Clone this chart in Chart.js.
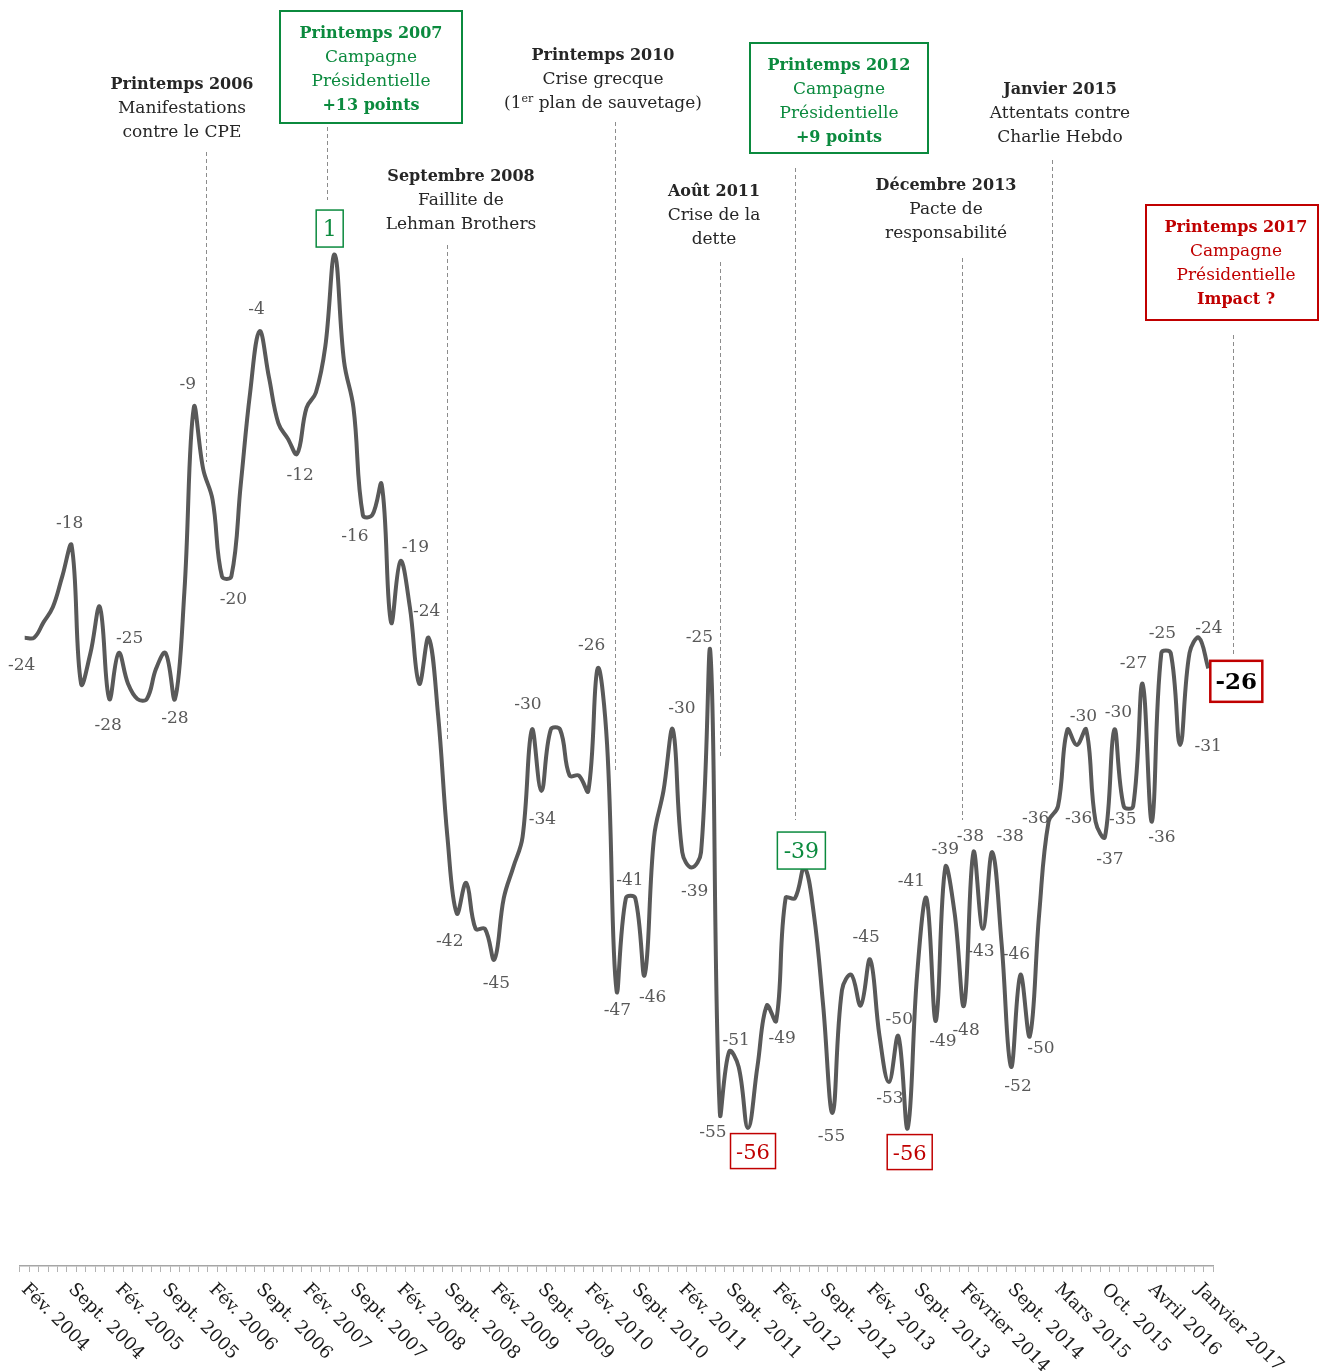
<!DOCTYPE html>
<html>
<head>
<meta charset="utf-8">
<script src="https://cdn.jsdelivr.net/npm/chart.js@4.4.1/dist/chart.umd.min.js"></script>
<style>
  body { margin: 0; background: #fff; }
  canvas { display: block; }
</style>
</head>
<body>
<canvas id="chart" width="1319" height="1371"></canvas>
<script>
// axis labels, one every 5 points
const tickLabels = [
    "Fév. 2004", "Sept. 2004", "Fév. 2005", "Sept. 2005", "Fév. 2006", "Sept. 2006",
    "Fév. 2007", "Sept. 2007", "Fév. 2008", "Sept. 2008", "Fév. 2009", "Sept. 2009",
    "Fév. 2010", "Sept. 2010", "Fév. 2011", "Sept. 2011", "Fév. 2012", "Sept. 2012",
    "Fév. 2013", "Sept. 2013", "Février 2014", "Sept. 2014", "Mars 2015", "Oct. 2015",
    "Avril 2016", "Janvier 2017"
];
const tickEvery = 5;

// balance of opinion, one value per survey
const values = [
    -24, -24, -23, -22, -20, -18, -27, -25, -22, -28,
    -25, -27, -28, -28, -26, -25, -28, -21, -9, -13,
    -15, -20, -20, -14, -8, -4, -7, -10, -11, -12,
    -9, -8, -5, 1, -6, -9, -16, -16, -14, -23,
    -19, -22, -27, -24, -29, -37, -42, -40, -43, -43,
    -45, -41, -39, -37, -30, -34, -30, -30, -33, -33,
    -34, -26, -31, -47, -41, -41, -46, -37, -34, -30,
    -38, -39, -38, -25, -55, -51, -52, -56, -52, -48,
    -49, -41, -41, -39, -42, -48, -55, -47, -46, -48,
    -45, -50, -53, -50, -56, -46, -41, -49, -39, -42,
    -48, -38, -43, -38, -44, -52, -46, -50, -42, -36,
    -35, -30, -31, -30, -36, -37, -30, -35, -35, -27,
    -36, -25, -25, -31, -25, -24, -26
];

const categories = values.map((v, i) => i % tickEvery === 0 ? tickLabels[i / tickEvery] : "");

const ink = "#262626";
const grey = "#595959";
const green = "#0b8a3e";
const red = "#c00000";
const serif = "'DejaVu Serif', 'Liberation Serif', serif";

// plain value labels: [point index, dx, dy]
const valueLabels = [
    [0, -3, 28], [5, -2, -22], [9, -1, 27], [10, 11, -14], [16, 0, 20], [18, -6, -23],
    [22, 2, 23], [25, -3, -22], [29, 3, 22], [36, -8, 22], [40, 15, -13], [43, -2, -26],
    [46, -7, 28], [50, 2, 24], [54, -4, -25], [55, 1, 29], [61, -6, -23], [63, 1, 20],
    [64, 4, -18], [66, 8, 23], [69, 9, -21], [71, 3, 24], [73, -11, -15], [74, -7, 20],
    [75, 7, -11], [80, 6, 18], [86, -1, 24], [90, -4, -22], [92, 1, 16], [93, 1, -17],
    [96, -15, -17], [97, 7, 21], [98, 0, -18], [100, 2, 25], [101, -3, -16], [102, -2, 23],
    [103, 18, -16], [105, 7, 20], [106, -4, -20], [107, 11, 12], [109, -13, -3], [111, 16, -13],
    [114, -17, -3], [115, 5, 23], [116, 4, -17], [117, -1, 13], [119, -9, -20], [120, 10, 16],
    [121, 1, -19], [123, 28, 2], [125, 10, -9]
];

// boxed value labels: [point index, dx, dy, width, height, colour, text colour, bold, size]
const boxedLabels = [
    [33, -5, -26, 27, 37, green, green, false, 22],
    [77, 5, 23, 45, 35, red, red, false, 21],
    [83, -3, -17, 48, 37, green, green, false, 22],
    [94, 2, 24, 45, 35, red, red, false, 21],
    [126, 28, 13, 52, 41, red, "#000", true, 23]
];

// events: text block, optional frame, dashed marker at a (fractional) point index
const events = [
    { lines: ["Printemps 2006", "Manifestations", "contre le CPE"], bold: [0], color: ink, cx: 182, y0: 85, at: 19.3, from: 152, to: 462 },
    { lines: ["Printemps 2007", "Campagne", "Présidentielle", "+13 points"], bold: [0, 3], color: green, cx: 371, y0: 34, box: [280, 11, 182, 112], at: 32.2, from: 127, to: 200 },
    { lines: ["Septembre 2008", "Faillite de", "Lehman Brothers"], bold: [0], color: ink, cx: 461, y0: 177, at: 45.0, from: 245, to: 742 },
    { lines: ["Printemps 2010", "Crise grecque", "(1^er^ plan de sauvetage)"], bold: [0], color: ink, cx: 603, y0: 56, at: 62.8, from: 122, to: 773 },
    { lines: ["Août 2011", "Crise de la", "dette"], bold: [0], color: ink, cx: 714, y0: 192, at: 74.05, from: 262, to: 757 },
    { lines: ["Printemps 2012", "Campagne", "Présidentielle", "+9 points"], bold: [0, 3], color: green, cx: 839, y0: 66, box: [750, 43, 178, 110], at: 82.0, from: 168, to: 820 },
    { lines: ["Décembre 2013", "Pacte de", "responsabilité"], bold: [0], color: ink, cx: 946, y0: 186, at: 99.8, from: 258, to: 820 },
    { lines: ["Janvier 2015", "Attentats contre", "Charlie Hebdo"], bold: [0], color: ink, cx: 1060, y0: 90, at: 109.4, from: 160, to: 785 },
    { lines: ["Printemps 2017", "Campagne", "Présidentielle", "Impact ?"], bold: [0, 3], color: red, cx: 1236, y0: 228, box: [1146, 205, 172, 115], at: 128.6, from: 335, to: 655 }
];

function drawLine(ctx, text, cx, y, bold) {
    // supports a superscript part written as ^er^
    const size = bold ? 16 : 17;
    const parts = text.split("^");
    const main = (bold ? "bold " : "") + size + "px " + serif;
    const sup = (bold ? "bold " : "") + Math.round(size * 0.62) + "px " + serif;
    let total = 0;
    parts.forEach((p, k) => {
        ctx.font = k % 2 ? sup : main;
        total += ctx.measureText(p).width;
    });
    let x = cx - total / 2;
    ctx.textAlign = "left";
    parts.forEach((p, k) => {
        ctx.font = k % 2 ? sup : main;
        ctx.fillText(p, x, k % 2 ? y - size * 0.3 : y);
        x += ctx.measureText(p).width;
    });
}

const overlay = {
    id: "overlay",
    afterDraw(chart) {
        const ctx = chart.ctx;
        const xs = chart.scales.x;
        const ys = chart.scales.y;
        ctx.save();
        ctx.textBaseline = "middle";

        // event markers and texts
        events.forEach(ev => {
            const x = Math.round(xs.getPixelForValue(ev.at)) + 0.5;
            ctx.strokeStyle = "#8c8c8c";
            ctx.lineWidth = 1;
            ctx.setLineDash([4, 3]);
            ctx.beginPath();
            ctx.moveTo(x, ev.from);
            ctx.lineTo(x, ev.to);
            ctx.stroke();
            ctx.setLineDash([]);
            if (ev.box) {
                ctx.strokeStyle = ev.color;
                ctx.lineWidth = 2;
                ctx.strokeRect(ev.box[0], ev.box[1], ev.box[2], ev.box[3]);
            }
            ctx.fillStyle = ev.color;
            ev.lines.forEach((t, k) => {
                drawLine(ctx, t, ev.cx, ev.y0 + k * 24, ev.bold.includes(k));
            });
        });

        // value labels
        ctx.textAlign = "center";
        ctx.fillStyle = grey;
        ctx.font = "17px " + serif;
        valueLabels.forEach(([i, dx, dy]) => {
            const x = xs.getPixelForValue(i);
            const y = ys.getPixelForValue(values[i]);
            ctx.fillText(String(values[i]), x + dx, y + dy);
        });

        boxedLabels.forEach(([i, dx, dy, w, h, frame, col, bold, size]) => {
            const x = xs.getPixelForValue(i) + dx;
            const y = ys.getPixelForValue(values[i]) + dy;
            ctx.fillStyle = "#fff";
            ctx.fillRect(x - w / 2, y - h / 2, w, h);
            ctx.strokeStyle = frame;
            ctx.lineWidth = bold ? 2.5 : 1.5;
            ctx.strokeRect(x - w / 2, y - h / 2, w, h);
            ctx.fillStyle = col;
            ctx.textAlign = "center";
            ctx.font = (bold ? "bold " : "") + size + "px " + serif;
            ctx.fillText(String(values[i]), x, y + 2);
        });

        // rotated axis labels
        ctx.fillStyle = "#1a1a1a";
        ctx.font = "18px " + serif;
        ctx.textAlign = "left";
        ctx.textBaseline = "alphabetic";
        tickLabels.forEach((t, k) => {
            const x = xs.getPixelForValue(k * tickEvery);
            ctx.save();
            ctx.translate(x - 4, xs.bottom + 18);
            ctx.rotate(Math.PI / 4);
            ctx.fillText(t, 0, 0);
            ctx.restore();
        });
        ctx.restore();
    }
};

new Chart(document.getElementById("chart"), {
    type: "line",
    data: {
        labels: categories,
        datasets: [{
            data: values,
            borderColor: "#595959",
            borderWidth: 4,
            pointRadius: 0,
            tension: 0.4,
            fill: false
        }]
    },
    options: {
        responsive: false,
        animation: false,
        devicePixelRatio: 1,
        layout: { padding: { left: 20, right: 106, top: 40, bottom: 99 } },
        plugins: { legend: { display: false }, tooltip: { enabled: false } },
        scales: {
            x: {
                type: "category",
                offset: true,
                grid: { display: true, drawOnChartArea: false, drawTicks: true, tickLength: 6, color: "#b3b3b3", offset: true },
                border: { display: true, color: "#a6a6a6", width: 1.5 },
                ticks: { display: false }
            },
            y: { display: false, min: -65, max: 15 }
        }
    },
    plugins: [overlay]
});
</script>
</body>
</html>
